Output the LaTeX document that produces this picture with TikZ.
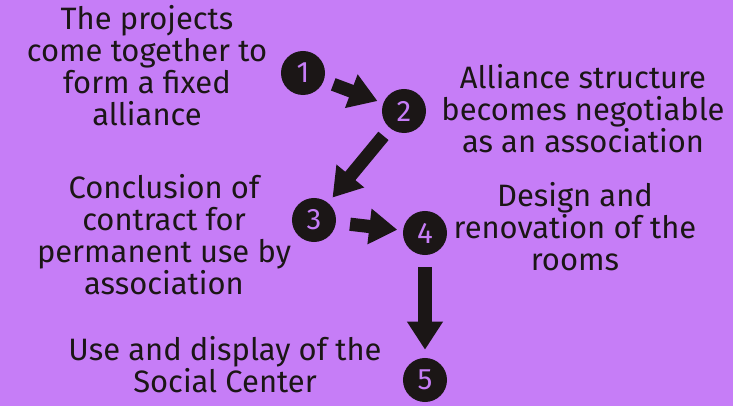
\documentclass[tikz,border=0pt]{standalone}
\usepackage{fontspec}
\setmainfont{Fira Sans}
\usetikzlibrary{arrows.meta}
\definecolor{bgpurple}{RGB}{198,125,247}
\definecolor{inkblack}{RGB}{27,22,22}

\begin{document}
\begin{tikzpicture}[x=0.025cm, y=-0.025cm,
  num/.style={circle, fill=inkblack, text=bgpurple, minimum size=1.1cm, inner sep=0pt,
    font=\fontsize{21}{22}\selectfont},
  steptext/.style={align=center, text=inkblack, anchor=base, inner sep=0pt,
    font=\fontsize{22}{22.8}\selectfont},
  fat/.style={draw=inkblack, line width=0.33cm,
    -{Triangle[length=0.7cm, width=0.85cm]}}]
% background
\fill[bgpurple] (0,0) rectangle (733,406);
\useasboundingbox (0,0) rectangle (733,406);

% numbered steps
\node[num] (n1) at (303,73) {1};
\node[num] (n2) at (404,111) {2};
\node[num] (n3) at (314,220) {3};
\node[num] (n4) at (425,233) {4};
\node[num] (n5) at (425,380) {5};

% descriptions (anchored on the last baseline)
\node[steptext] (t1) at (147,126) {The projects\\come together to\\form a fixed\\alliance};
\node[steptext] (t2) at (583,153) {Alliance structure\\becomes negotiable\\as an association};
\node[steptext] (t3) at (164,295) {Conclusion of\\contract for\\permanent use by\\association};
\node[steptext] (t4) at (575,271) {Design and\\renovation of the\\rooms};
\node[steptext] (t5) at (225,393) {Use and display of the\\Social Center};

% arrows
\draw[fat, shorten <=0.25cm, shorten >=0.15cm] (n1) -- (n2);
\draw[fat, shorten <=0.25cm, shorten >=0.17cm] (n2) -- (n3);
\draw[fat, shorten <=0.35cm, shorten >=0.14cm] (n3) -- (n4);
\draw[fat, shorten <=0.3cm, shorten >=0.2cm] (n4) -- (n5);
\end{tikzpicture}
\end{document}
